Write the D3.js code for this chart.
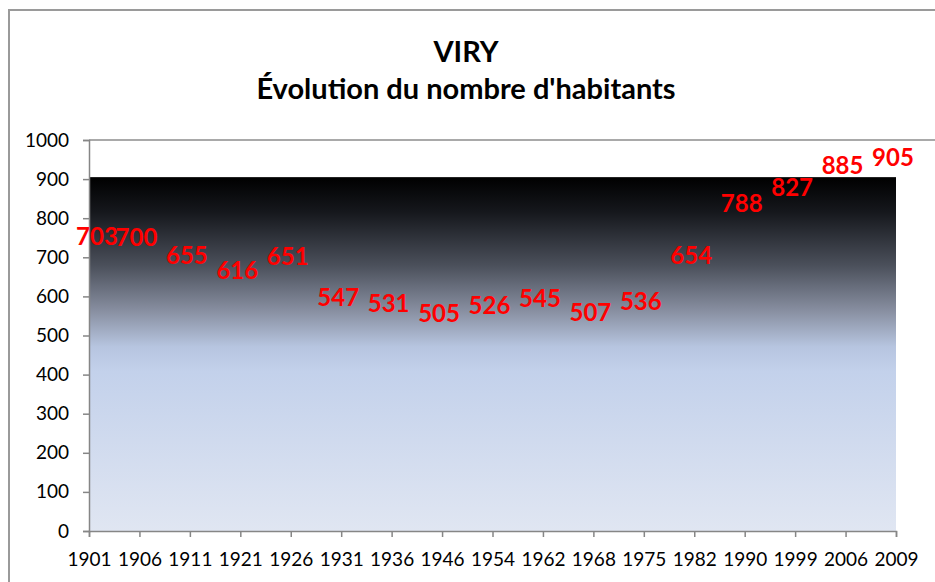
<!DOCTYPE html>
<html>
<head>
<meta charset="utf-8">
<script src="https://cdn.jsdelivr.net/npm/d3@7"></script>
<style>
  body { margin: 0; background: #fff; }
  text { font-family: Lato, "Open Sans", sans-serif; }
</style>
</head>
<body>
<script>
// données : recensements de Viry
let years = ['1901','1906','1911','1921','1926','1931','1936','1946','1954','1962','1968','1975','1982','1990','1999','2006','2009']
let habitants = [703, 700, 655, 616, 651, 547, 531, 505, 526, 545, 507, 536, 654, 788, 827, 885, 905]
let yTicks = [0, 100, 200, 300, 400, 500, 600, 700, 800, 900, 1000]

let w = 935
let h = 582
let plotL = 89, plotR = 896, plotT = 140, plotB = 531

let svg = d3.select('body').append('svg').attr('width', w).attr('height', h)

// cadre du graphique
svg.append('rect')
  .attr('x', 9).attr('y', 10).attr('width', 960).attr('height', 620)
  .attr('fill', 'none').attr('stroke', '#9a9a9a').attr('stroke-width', 2)

let x = d3.scalePoint().domain(years).range([plotL, plotR])
let y = d3.scaleLinear().domain([0, 1000]).range([plotB, plotT])

// dégradé
let grad = svg.append('defs').append('linearGradient')
  .attr('id', 'fond').attr('x1', 0).attr('y1', 0).attr('x2', 0).attr('y2', 1)
let stops = [[0, '#000000'], [0.1, '#16181d'], [0.25, '#4b505b'], [0.38, '#8990a2'], [0.48, '#b7c5e0'], [0.55, '#c3d1eb'], [1, '#e0e6f2']]
grad.selectAll('stop').data(stops).enter().append('stop')
  .attr('offset', d => d[0]).attr('stop-color', d => d[1])

let maxVal = d3.max(habitants)
svg.append('rect')
  .attr('x', x(years[0]))
  .attr('y', y(maxVal))
  .attr('width', x(years[years.length - 1]) - x(years[0]))
  .attr('height', y(0) - y(maxVal))
  .attr('fill', 'url(#fond)')

// ligne du haut de la zone de traçage
svg.append('line')
  .attr('x1', plotL).attr('x2', w).attr('y1', y(1000)).attr('y2', y(1000))
  .attr('stroke', '#8c8c8c').attr('stroke-width', 1.5)

// axes
let yAxis = svg.append('g').attr('transform', `translate(${plotL},0)`)
  .call(d3.axisLeft(y).tickValues(yTicks).tickFormat(d3.format('d')).tickSize(6).tickPadding(14))
let xAxis = svg.append('g').attr('transform', `translate(0,${plotB})`)
  .call(d3.axisBottom(x).tickSize(6).tickPadding(16))

;[yAxis, xAxis].forEach(g => {
  g.select('.domain').attr('stroke', '#868686').attr('stroke-width', 1.5)
  g.selectAll('.tick line').attr('stroke', '#868686').attr('stroke-width', 1.5)
  g.selectAll('.tick text').attr('font-size', '19px').attr('fill', '#000')
    .attr('font-family', 'Lato, sans-serif')
})

// étiquettes de données
svg.selectAll('.lbl')
  .data(habitants)
  .enter()
  .append('text')
  .attr('class', 'lbl')
  .text(d => d)
  .attr('x', (d, i) => Math.max(x(years[i]) - 3, plotL + 8))
  .attr('y', d => y(d) - 20)
  .attr('dy', '0.36em')
  .attr('text-anchor', 'middle')
  .attr('font-size', '24px')
  .attr('font-weight', 'bold')
  .attr('fill', '#ff0000')

// titre
let title = svg.append('text').attr('text-anchor', 'middle')
  .attr('font-size', '29px').attr('font-weight', 'bold').attr('fill', '#000')
title.append('tspan').attr('x', 466).attr('y', 62).text('VIRY')
title.append('tspan').attr('x', 466).attr('y', 99).text("Évolution du nombre d'habitants")
</script>
</body>
</html>
